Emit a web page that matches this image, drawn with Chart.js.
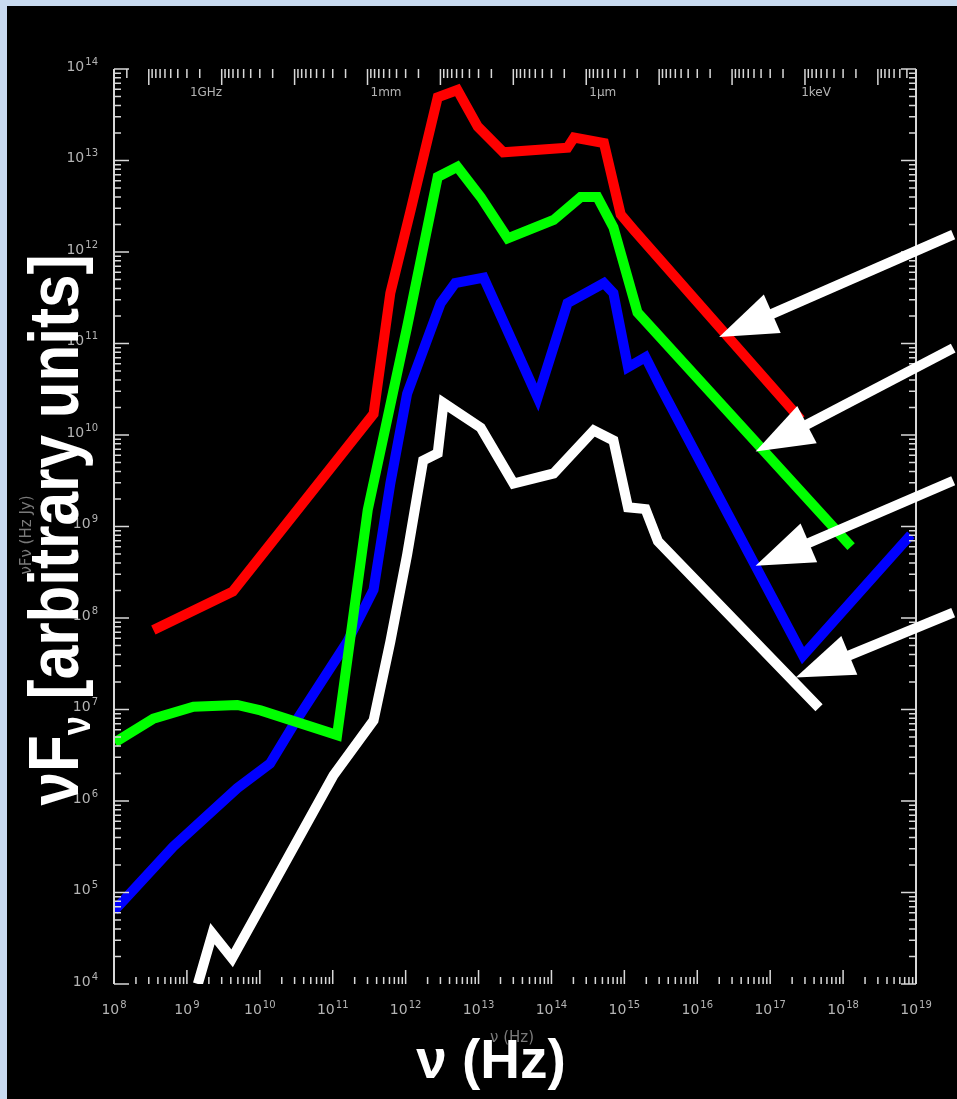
<!DOCTYPE html>
<html>
<head>
<meta charset="utf-8">
<script src="https://cdn.jsdelivr.net/npm/chart.js@4.4.0/dist/chart.umd.min.js"></script>
<style>
  html, body { margin: 0; padding: 0; background: #c8daf0; }
  canvas { display: block; }
</style>
</head>
<body>
<canvas id="sedChart" width="957" height="1099"></canvas>
<script>
// --- données (log10 de nu en Hz, log10 de nuFnu) ---
const nuRouge   = [8.54, 9.63, 11.56, 11.79, 12.07, 12.44, 12.71, 12.99, 13.34, 14.22, 14.31, 14.72, 14.95, 15.13, 17.42];
const fluxRouge = [7.87, 8.29, 10.23, 11.55, 12.46, 13.69, 13.77, 13.37, 13.09, 13.14, 13.25, 13.19, 12.41, 12.24, 10.17];

const nuVert   = [8.01, 8.54, 9.09, 9.69, 10.01, 11.06, 11.48, 12.02, 12.44, 12.71, 13.03, 13.40, 14.03, 14.40, 14.63, 14.85, 15.18, 18.11];
const fluxVert = [6.64, 6.90, 7.03, 7.05, 6.99, 6.72, 9.18, 11.18, 12.82, 12.93, 12.60, 12.15, 12.35, 12.60, 12.60, 12.27, 11.34, 8.78];

const nuBleu   = [8.00, 8.81, 9.69, 10.14, 10.46, 11.20, 11.56, 11.79, 12.02, 12.48, 12.68, 13.07, 13.81, 14.22, 14.72, 14.85, 15.05, 15.29, 15.50, 17.45, 18.93];
const fluxBleu = [4.80, 5.50, 6.14, 6.41, 6.83, 7.74, 8.31, 9.47, 10.45, 11.44, 11.66, 11.72, 10.41, 11.44, 11.66, 11.55, 10.74, 10.85, 10.52, 7.59, 8.91];

const nuBlanc   = [9.15, 9.35, 9.62, 11.01, 11.56, 11.79, 12.02, 12.24, 12.44, 12.52, 13.03, 13.48, 14.03, 14.58, 14.85, 15.05, 15.29, 15.46, 17.67];
const fluxBlanc = [4.00, 4.55, 4.28, 6.28, 6.88, 7.74, 8.69, 9.72, 9.80, 10.35, 10.08, 9.47, 9.58, 10.05, 9.94, 9.21, 9.19, 8.84, 7.02];

// ticks (exposants)
const decadesX = [8, 9, 10, 11, 12, 13, 14, 15, 16, 17, 18, 19];
const decadesY = [4, 5, 6, 7, 8, 9, 10, 11, 12, 13, 14];

// axe du haut
const etiquettesHaut = ['1GHz', '1mm', '1\u03bcm', '1keV'];
const freqHaut = [1e9, 3e11, 3e14, 2.418e17];

// flèches : queue et pointe en log10
const flecheQueueNu = [19.51, 19.51, 19.51, 19.51];
const flecheQueueFlux = [12.19, 10.95, 9.50, 8.06];
const flechePointeNu = [16.30, 16.80, 16.80, 17.35];
const flechePointeFlux = [11.07, 9.82, 8.57, 7.35];

function points(lx, ly) {
    return lx.map((v, i) => ({ x: Math.pow(10, v), y: Math.pow(10, ly[i]) }));
}

function serie(lx, ly, couleur) {
    return {
        data: points(lx, ly),
        borderColor: couleur,
        backgroundColor: couleur,
        borderWidth: 10,
        borderJoinStyle: 'miter',
        pointRadius: 0,
        tension: 0,
        fill: false
    };
}

// texte 10^n
function puissance(ctx, n, x, y, align) {
    ctx.font = '14px "DejaVu Sans"';
    const wBase = ctx.measureText('10').width;
    ctx.font = '10px "DejaVu Sans"';
    const wExp = ctx.measureText(String(n)).width;
    const total = wBase + wExp + 1;
    let x0 = x;
    if (align === 'right') x0 = x - total;
    if (align === 'center') x0 = x - total / 2;
    ctx.textAlign = 'left';
    ctx.textBaseline = 'middle';
    ctx.font = '14px "DejaVu Sans"';
    ctx.fillText('10', x0, y);
    ctx.font = '10px "DejaVu Sans"';
    ctx.fillText(String(n), x0 + wBase + 1, y - 5);
}

function fleche(ctx, x1, y1, x2, y2) {
    const dx = x2 - x1, dy = y2 - y1;
    const L = Math.hypot(dx, dy);
    const ux = dx / L, uy = dy / L;
    const tete = 58, demi = 21;
    const bx = x2 - ux * tete, by = y2 - uy * tete;
    ctx.strokeStyle = '#ffffff';
    ctx.fillStyle = '#ffffff';
    ctx.lineWidth = 10;
    ctx.lineCap = 'butt';
    ctx.beginPath();
    ctx.moveTo(x1, y1);
    ctx.lineTo(bx + ux * 4, by + uy * 4);
    ctx.stroke();
    ctx.beginPath();
    ctx.moveTo(x2, y2);
    ctx.lineTo(bx - uy * demi, by + ux * demi);
    ctx.lineTo(bx + uy * demi, by - ux * demi);
    ctx.closePath();
    ctx.fill();
}

const cadre = {
    id: 'cadre',
    beforeDraw(chart) {
        const ctx = chart.ctx;
        ctx.save();
        ctx.fillStyle = '#c8daf0';
        ctx.fillRect(0, 0, chart.width, chart.height);
        ctx.fillStyle = '#000000';
        ctx.fillRect(7, 6, chart.width - 7, chart.height - 6);
        ctx.restore();
    },
    afterDatasetsDraw(chart) {
        const ctx = chart.ctx;
        const a = chart.chartArea;
        const sx = chart.scales.x, sy = chart.scales.y;
        ctx.save();

        // bords gauche / droite
        ctx.strokeStyle = '#d8d8d8';
        ctx.lineWidth = 2;
        ctx.beginPath();
        ctx.moveTo(a.left, a.top); ctx.lineTo(a.left, a.bottom);
        ctx.moveTo(a.right, a.top); ctx.lineTo(a.right, a.bottom);
        ctx.stroke();

        // ticks verticaux (axe y)
        ctx.lineWidth = 1.5;
        ctx.beginPath();
        decadesY.forEach(n => {
            for (let k = 1; k <= 9; k++) {
                if (n === 14 && k > 1) break;
                const py = sy.getPixelForValue(k * Math.pow(10, n));
                const len = k === 1 ? 15 : 7;
                ctx.moveTo(a.left, py); ctx.lineTo(a.left + len, py);
                ctx.moveTo(a.right, py); ctx.lineTo(a.right - len, py);
            }
        });
        // ticks du bas
        decadesX.forEach(n => {
            for (let k = 1; k <= 9; k++) {
                if (n === 19 && k > 1) break;
                const px = sx.getPixelForValue(k * Math.pow(10, n));
                const len = k === 1 ? 14 : 7;
                ctx.moveTo(px, a.bottom); ctx.lineTo(px, a.bottom - len);
            }
        });
        // ticks du haut (longueurs d'onde)
        for (let m = -11; m <= 1; m++) {
            for (let k = 1; k <= 9; k++) {
                const f = 3e8 / (k * Math.pow(10, m));
                if (f < 1e8 || f > 1e19) continue;
                const px = sx.getPixelForValue(f);
                const len = k === 1 ? 16 : 9;
                ctx.moveTo(px, a.top); ctx.lineTo(px, a.top + len);
            }
        }
        ctx.stroke();

        // étiquettes des axes
        ctx.fillStyle = '#b4b4b4';
        decadesY.forEach(n => {
            puissance(ctx, n, a.left - 16, sy.getPixelForValue(Math.pow(10, n)) - 2, 'right');
        });
        decadesX.forEach(n => {
            puissance(ctx, n, sx.getPixelForValue(Math.pow(10, n)), a.bottom + 26, 'center');
        });
        ctx.font = '12px "DejaVu Sans"';
        ctx.textAlign = 'left';
        ctx.textBaseline = 'middle';
        etiquettesHaut.forEach((t, i) => {
            ctx.fillText(t, sx.getPixelForValue(freqHaut[i]) + 3, a.top + 24);
        });

        // anciens titres (discrets)
        ctx.fillStyle = '#7a7a7a';
        ctx.font = '15px "DejaVu Sans"';
        ctx.textAlign = 'center';
        ctx.fillText('\u03bd (Hz)', 512, 1038);
        ctx.save();
        ctx.translate(27, 535);
        ctx.rotate(-Math.PI / 2);
        ctx.fillText('\u03bdF\u03bd (Hz Jy)', 0, 0);
        ctx.restore();

        // flèches
        for (let i = 0; i < flecheQueueNu.length; i++) {
            fleche(ctx,
                sx.getPixelForValue(Math.pow(10, flecheQueueNu[i])),
                sy.getPixelForValue(Math.pow(10, flecheQueueFlux[i])),
                sx.getPixelForValue(Math.pow(10, flechePointeNu[i])),
                sy.getPixelForValue(Math.pow(10, flechePointeFlux[i])));
        }

        // grand titre x
        ctx.fillStyle = '#ffffff';
        ctx.font = 'bold 55px "Liberation Sans"';
        ctx.textAlign = 'center';
        ctx.textBaseline = 'alphabetic';
        ctx.fillText('\u03bd (Hz)', 491, 1078);

        // grand titre y
        ctx.save();
        ctx.translate(78, 530);
        ctx.rotate(-Math.PI / 2);
        ctx.scale(0.86, 1);
        ctx.textAlign = 'left';
        const gros = 'bold 70px "Liberation Sans"';
        const petit = 'bold 40px "Liberation Sans"';
        ctx.font = gros;
        const w1 = ctx.measureText('\u03bdF').width;
        const w3 = ctx.measureText(' [arbitrary units]').width;
        ctx.font = petit;
        const w2 = ctx.measureText('\u03bd').width;
        const x0 = -(w1 + w2 + w3) / 2;
        ctx.font = gros;
        ctx.fillText('\u03bdF', x0, 0);
        ctx.font = petit;
        ctx.fillText('\u03bd', x0 + w1, 12);
        ctx.font = gros;
        ctx.fillText(' [arbitrary units]', x0 + w1 + w2, 0);
        ctx.restore();

        ctx.restore();
    }
};

document.addEventListener('DOMContentLoaded', () => {
    const ctxSed = document.getElementById('sedChart').getContext('2d');
    const sedChart = new Chart(ctxSed, {
        type: 'line',
        data: {
            datasets: [
                serie(nuRouge, fluxRouge, '#ff0000'),
                serie(nuVert, fluxVert, '#00ff00'),
                serie(nuBleu, fluxBleu, '#0000ff'),
                serie(nuBlanc, fluxBlanc, '#ffffff')
            ]
        },
        options: {
            responsive: false,
            devicePixelRatio: 1,
            animation: false,
            layout: {
                padding: { left: 114, top: 69, right: 41, bottom: 115 }
            },
            scales: {
                x: { type: 'logarithmic', min: 1e8, max: 1e19, display: false },
                y: { type: 'logarithmic', min: 1e4, max: 1e14, display: false }
            },
            plugins: {
                legend: { display: false },
                tooltip: { enabled: false }
            }
        },
        plugins: [cadre]
    });
});
</script>
</body>
</html>
